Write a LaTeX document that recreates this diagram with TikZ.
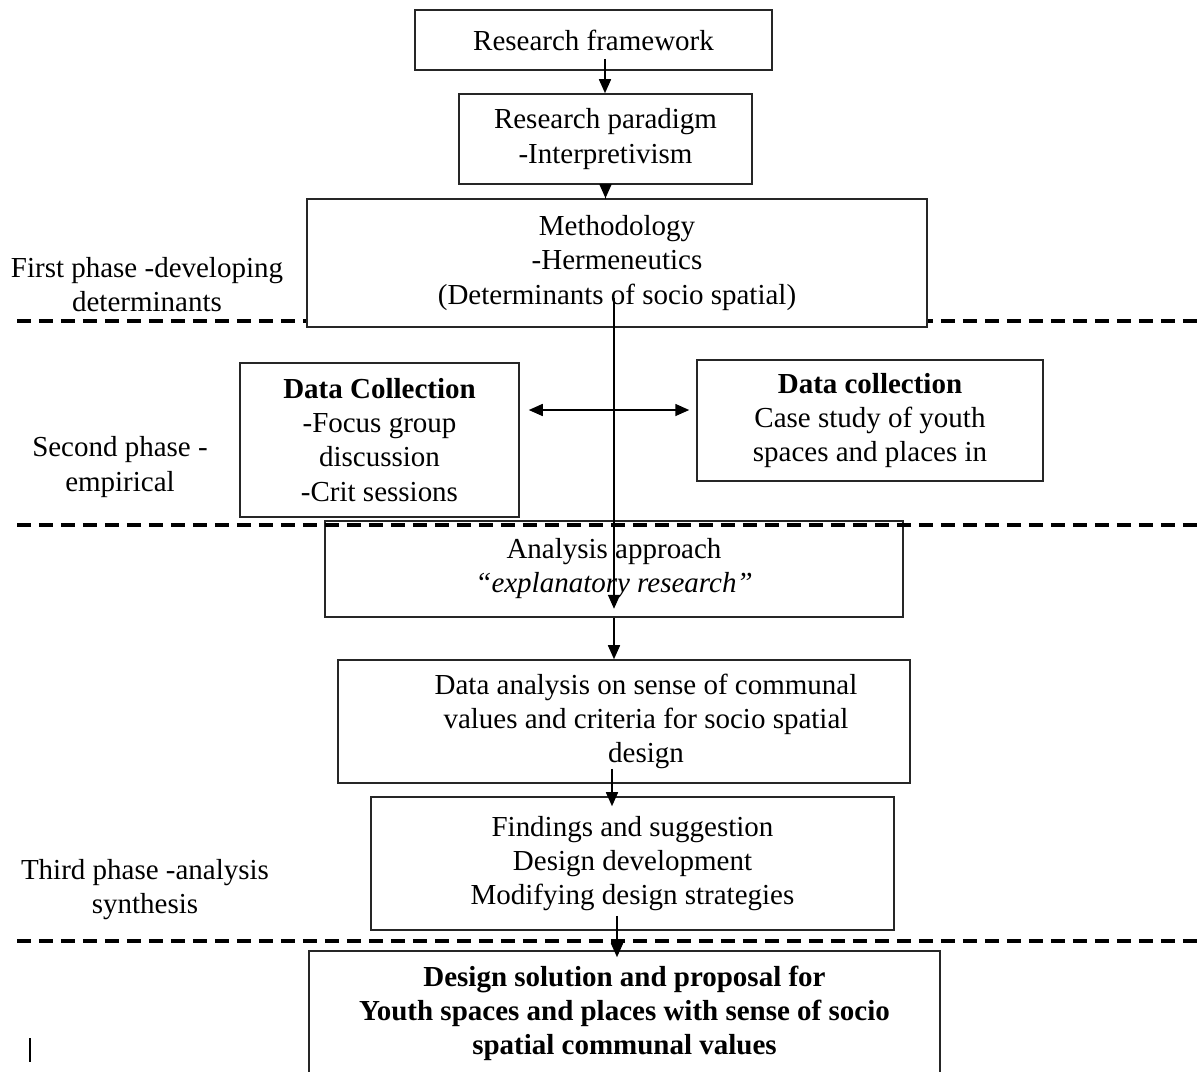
\documentclass[tikz,border=0pt]{standalone}
\usepackage{fontspec}
\setmainfont{Liberation Serif}
\usetikzlibrary{arrows.meta}

\begin{document}
\begin{tikzpicture}[
    x=0.02cm, y=-0.02cm,
    >={Triangle[length=0.28cm,width=0.24cm]},
    txt/.style={align=center, font=\fontsize{16.5}{19.4}\selectfont},
    box/.style={
        txt, rectangle, draw=black!85, line width=0.9pt,
        fill=white, inner sep=0pt
    },
    edge/.style={->, line width=0.9pt},
    divider/.style={line width=1.8pt, dash pattern=on 0.28cm off 0.16cm},
]
\useasboundingbox (0,0) rectangle (1198,1072);

% First divider, hidden behind the methodology box
\coordinate (d1w) at (17,321);
\coordinate (d1e) at (1198,321);
\draw[divider] (d1w) -- (d1e);

% Phase labels
\node[txt] (p1) at (147,284.5) {First phase -developing\\determinants};
\node[txt] (p2) at (120,467) {Second phase -\\empirical};
\node[txt] (p3) at (145,890) {Third phase -analysis\\synthesis};

% Main column
\node[box, minimum width=7.14cm, minimum height=1.2cm] (fw) at (593.5,40) {Research framework};
\node[box, minimum width=5.86cm, minimum height=1.8cm] (par) at (605.5,139) {Research paradigm\\-Interpretivism};
\node[box, minimum width=12.4cm, minimum height=2.56cm] (meth) at (617,263) {Methodology\\-Hermeneutics\\(Determinants of socio spatial)};

% Data collection
\node[box, minimum width=5.58cm, minimum height=3.08cm] (dcl) at (379.5,440) {\textbf{Data Collection}\\-Focus group\\discussion\\-Crit sessions};
\node[box, minimum width=6.92cm, minimum height=2.42cm] (dcr) at (870,420.5) {\textbf{Data collection}\\Case study of youth\\spaces and places in};

% Analysis
\node[box, minimum width=11.56cm, minimum height=1.92cm] (ana) at (614,569) {Analysis approach\\\textit{“explanatory research”}};
\node[box, minimum width=11.44cm, minimum height=2.46cm] (dana) at (624,721.5) {};
\node[txt] (danatext) at (646,721.5) {Data analysis on sense of communal\\values and criteria for socio spatial\\design};
\node[box, minimum width=10.46cm, minimum height=2.66cm] (find) at (632.5,863.5) {Findings and suggestion\\Design development\\Modifying design strategies};
\node[box, minimum width=12.62cm, minimum height=2.48cm] (sol) at (624.5,1013) {\textbf{Design solution and proposal for}\\\textbf{Youth spaces and places with sense of socio}\\\textbf{spatial communal values}};

% Other dividers
\coordinate (d2w) at (17,525);
\coordinate (d2e) at (1198,525);
\coordinate (d3w) at (17,941);
\coordinate (d3e) at (1198,941);
\draw[divider] (d2w) -- (d2e);
\draw[divider] (d3w) -- (d3e);

% stray mark
\coordinate (mk1) at (30,1038);
\coordinate (mk2) at (30,1062);
\draw[line width=0.8pt] (mk1) -- (mk2);

% Arrows
\draw[edge, shorten <=-0.24cm] ([xshift=0.23cm]fw.south) -- ([xshift=0.23cm]fw.south |- par.north);
\draw[edge, shorten <=-0.28cm] (par.south) -- (par.south |- meth.north);
\draw[edge, shorten <=-0.6cm, shorten >=0.18cm] ([xshift=-0.06cm]meth.south) -- ([xshift=-0.06cm]meth.south |- ana.south);
\draw[edge, <->, shorten <=0.18cm, shorten >=0.14cm] ([yshift=0.6cm]dcl.east) -- ([yshift=0.6cm]dcl.east -| dcr.west);
\draw[edge] (ana.south) -- (ana.south |- dana.north);
\draw[edge, shorten <=-0.3cm, shorten >=-0.2cm] ([xshift=-0.24cm]dana.south) -- ([xshift=-0.24cm]dana.south |- find.north);
\draw[edge, shorten <=-0.3cm, shorten >=-0.14cm] ([xshift=-0.31cm]find.south) -- ([xshift=-0.31cm]find.south |- sol.north);

\end{tikzpicture}
\end{document}
